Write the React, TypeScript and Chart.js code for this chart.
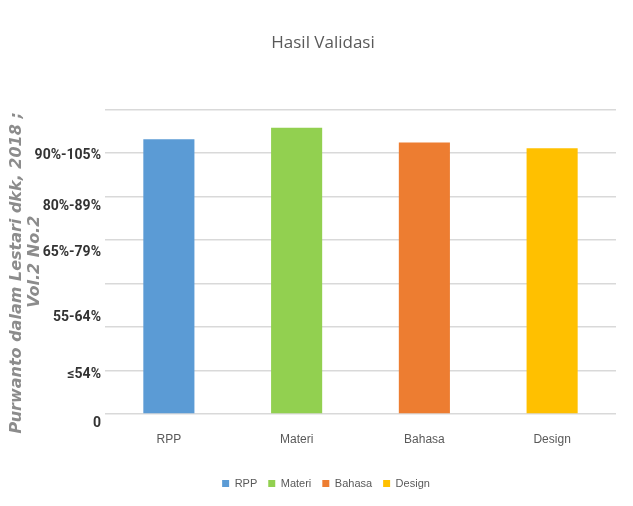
import React, { useEffect, useRef } from "react";
import { Chart, registerables } from "chart.js";

Chart.register(...registerables);

const categories = ["RPP", "Materi", "Bahasa", "Design"];
const values = [94.7, 98.7, 93.6, 91.6];
const barColors = ["#5b9bd5", "#92d050", "#ed7d31", "#ffc000"];
const rangeLabels = ["0", "≤54%", "55-64%", "65%-79%", "80%-89%", "90%-105%"];
const rangeLabelPositions = [0, 16.6, 36.5, 58.9, 74.8, 92.3];
const axisTitle = ["Purwanto dalam Lestari dkk, 2018 ;    ", "Vol.2 No.2"];
const chartTitle = "Hasil Validasi";

const boxShift = {
  id: "boxShift",
  afterLayout(chart: any) {
    const l = chart.legend;
    if (l) {
      l.left += 18;
      l.right += 18;
    }
    const t = chart.titleBlock;
    if (t) {
      t.left += 15;
      t.right += 15;
    }
  },
};

export default function App() {
  const ref = useRef<HTMLCanvasElement | null>(null);
  useEffect(() => {
    if (!ref.current) return;
    const chart = new Chart(ref.current, {
      type: "bar",
      data: {
        labels: categories,
        datasets: [
          {
            label: "Hasil",
            data: values,
            backgroundColor: barColors,
            barPercentage: 0.4,
            categoryPercentage: 1,
          },
        ],
      },
      plugins: [boxShift],
      options: {
        animation: false,
        responsive: false,
        layout: { padding: { left: 0, right: 17, top: 0, bottom: 7 } },
        plugins: {
          title: {
            display: true,
            text: chartTitle,
            color: "#595959",
            font: { family: "'Open Sans', 'Liberation Sans', sans-serif", size: 17, weight: "normal" },
            padding: { top: 33, bottom: 56 },
          },
          legend: {
            position: "bottom",
            labels: {
              boxWidth: 7,
              boxHeight: 7,
              color: "#595959",
              font: { family: "'Liberation Sans', sans-serif", size: 11 },
              padding: 11,
              generateLabels: () =>
                categories.map((c, i) => ({
                  text: c,
                  fillStyle: barColors[i],
                  strokeStyle: barColors[i],
                  lineWidth: 0,
                  hidden: false,
                  index: i,
                  datasetIndex: 0,
                  fontColor: "#595959",
                })),
            },
            onClick: () => {},
          },
          tooltip: { enabled: false },
        },
        scales: {
          x: {
            grid: { display: false },
            border: { display: false },
            ticks: {
              color: "#595959",
              font: { family: "'Liberation Sans', sans-serif", size: 12 },
              padding: 10,
            },
            afterFit: (s: any) => {
              s.height = 53;
            },
          },
          y: {
            position: "left",
            weight: 0,
            min: 0,
            max: 105,
            ticks: { display: false, stepSize: 15 },
            grid: { color: "#d9d9d9", lineWidth: 1.5, drawTicks: false },
            border: { display: false },
            afterFit: (s: any) => {
              s.width = 0;
            },
          },
          yLabels: {
            position: "left",
            weight: 1,
            min: 0,
            max: 105,
            grid: { display: false, drawTicks: false },
            border: { display: false },
            afterBuildTicks: (s: any) => {
              s.ticks = rangeLabelPositions.map((v) => ({ value: v }));
            },
            ticks: {
              color: "#333333",
              labelOffset: 9,
              padding: 4,
              font: { family: "Roboto, sans-serif", size: 14, weight: "bold" },
              callback: (_v: any, i: number) => rangeLabels[i],
            },
            title: {
              display: true,
              text: axisTitle,
              color: "#8c8c8c",
              font: { family: "'DejaVu Sans', sans-serif", size: 16, weight: "bold", style: "italic", lineHeight: 1.1 },
              padding: { top: 8, bottom: 0 },
            },
            afterFit: (s: any) => {
              s.width = 105;
            },
          },
        },
      },
    });
    return () => chart.destroy();
  }, []);
  return (
    <div style={{ position: "fixed", left: 0, top: 0, width: 633, height: 506, background: "#fff" }}>
      <canvas ref={ref} width={633} height={506} style={{ width: 633, height: 506 }} />
    </div>
  );
}
